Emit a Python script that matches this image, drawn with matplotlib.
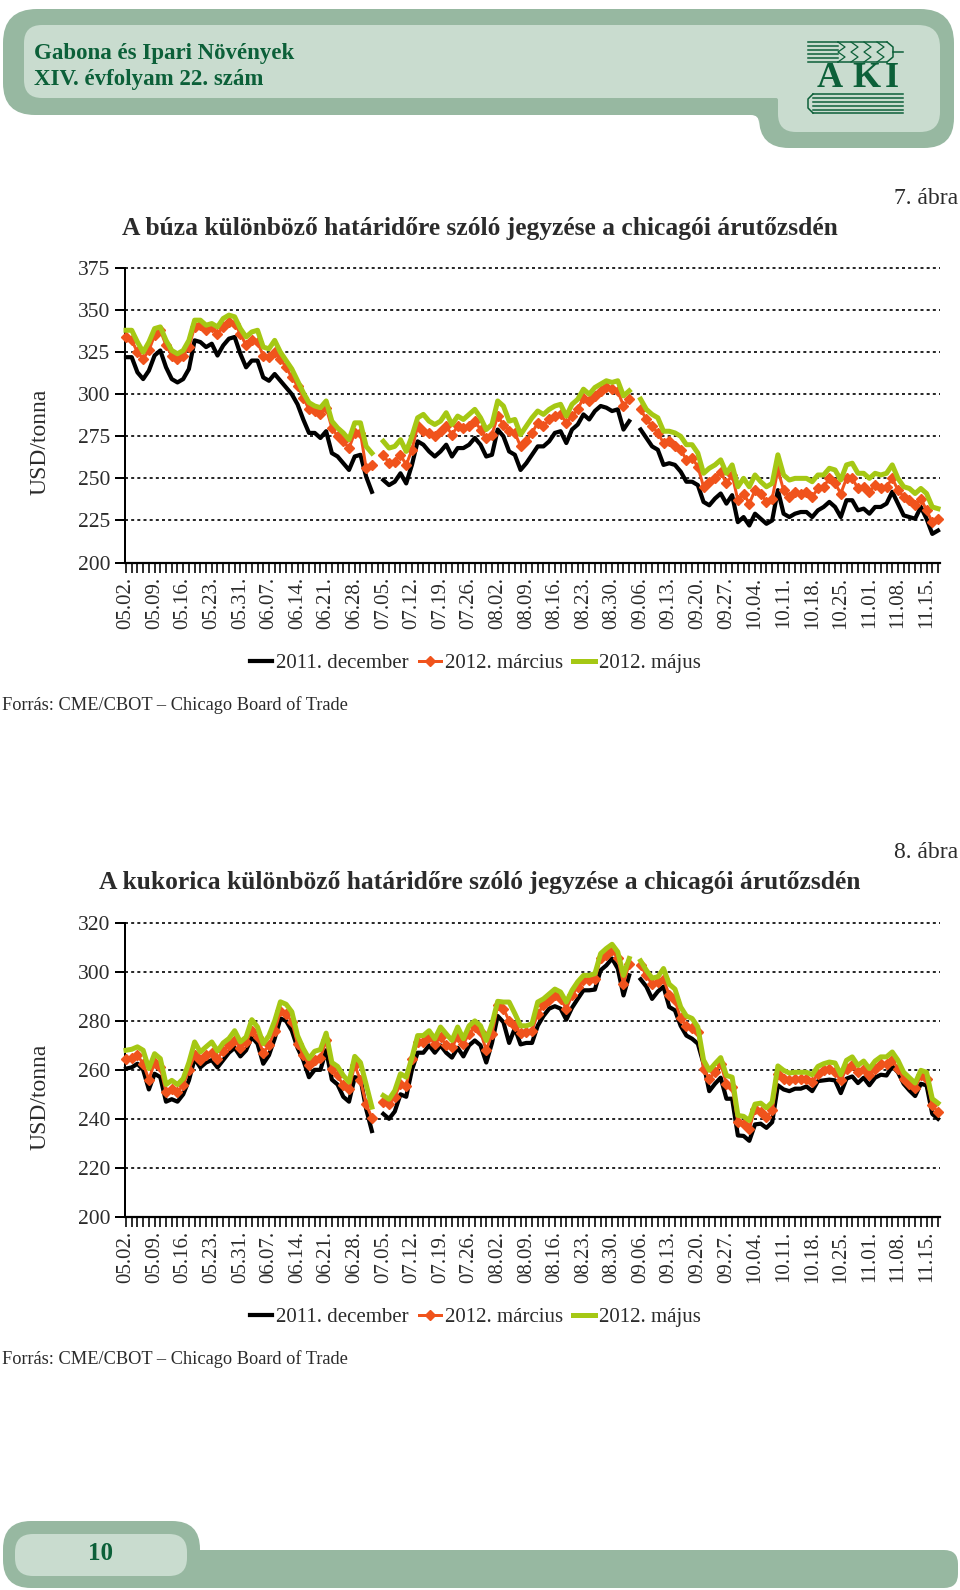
"""Gabona és Ipari Növények, 10. oldal: búza- és kukoricajegyzések a chicagói árutőzsdén."""

import matplotlib
matplotlib.use("Agg")
import matplotlib.pyplot as plt
from matplotlib.patches import PathPatch
from matplotlib.path import Path

nan = float("nan")

DATES = ["05.02.", "05.09.", "05.16.", "05.23.", "05.31.", "06.07.", "06.14.", "06.21.", "06.28.",
         "07.05.", "07.12.", "07.19.", "07.26.", "08.02.", "08.09.", "08.16.", "08.23.", "08.30.",
         "09.06.", "09.13.", "09.20.", "09.27.", "10.04.", "10.11.", "10.18.", "10.25.", "11.01.",
         "11.08.", "11.15."]
SERIES_NAMES = ["2011. december", "2012. március", "2012. május"]

WHEAT_TICKS = [200, 225, 250, 275, 300, 325, 350, 375]
CORN_TICKS = [200, 220, 240, 260, 280, 300, 320]

wheat_dec = [322, 322, 313, 309, 314, 323, 326, 316, 309, 307, 309, 315, 332, 331, 328, 330, 323, 329, 333, 334,
             324, 316, 320, 320, 310, 308, 312, 308, 304, 300, 294, 285, 277, 277, 274, 278, 265, 263, 259, 255,
             263, 264, 251, 242, nan,
             249, 246, 248, 253, 247, 258, 272, 270, 266, 263, 266, 270, 263, 268, 268, 270, 274, 270, 263, 264,
             279, 275, 266, 264, 255, 259, 264, 269, 269, 272, 277, 278, 271, 279, 282, 288, 285, 290, 293, 292,
             290, 291, 279, 284, nan,
             279, 274, 269, 267, 258, 259, 258, 254, 248, 248, 246, 236, 234, 238, 241, 235,
             240, 224, 227, 222, 229, 226, 223, 225, 243, 229, 227, 229, 230, 230, 227, 231, 233, 236, 233, 227,
             237, 237, 231, 232, 229, 233, 233, 235, 242, 235, 228, 227, 226, 233, 226, 217, 219]
wheat_mar = [334, 332, 325, 321, 326, 335, 338, 329, 323, 321, 323, 328, 340, 341, 338, 340, 336, 340, 343, 342,
             336, 329, 332, 331, 323, 322, 325, 321, 316, 310, 305, 298, 291, 290, 288, 292, 280, 275, 272, 268,
             277, 277, 256, 258, nan,
             264, 259, 260, 264, 258, 267, 281, 278, 277, 275, 278, 281, 276, 281, 280, 281, 284, 279, 274, 276,
             287, 282, 278, 277, 269, 272, 277, 283, 281, 285, 287, 288, 283, 287, 291, 298, 296, 299, 302, 304,
             303, 302, 293, 297, nan,
             291, 285, 281, 277, 271, 272, 269, 267, 261, 262, 257, 245, 248, 250, 254, 247, 252, 237, 241, 235,
             243, 241, 236, 238, 255, 243, 239, 242, 241, 242, 239, 244, 245, 250, 247, 241, 250, 250, 244, 245,
             242, 246, 244, 245, 250, 243, 239, 237, 234, 238, 231, 224, 226]
wheat_may = [338, 338, 331, 325, 331, 339, 340, 332, 326, 324, 326, 332, 344, 344, 341, 342, 340, 345, 347, 346,
             339, 334, 337, 338, 328, 327, 332, 325, 320, 315, 308, 301, 295, 293, 292, 296, 284, 280, 277, 273,
             283, 283, 269, 265, nan,
             272, 268, 269, 273, 266, 275, 286, 288, 284, 282, 284, 289, 282, 287, 285, 288, 291, 286, 279, 282,
             296, 293, 284, 285, 276, 281, 286, 290, 288, 291, 293, 294, 287, 294, 297, 303, 300, 304, 306, 308,
             307, 308, 299, 302, nan,
             297, 291, 288, 286, 278, 278, 277, 275, 270, 270, 265, 253, 256, 258, 261, 253, 258, 245, 250, 245,
             252, 248, 245, 247, 264, 252, 249, 250, 250, 250, 248, 252, 252, 256, 255, 249, 258, 259, 253, 253,
             250, 253, 252, 253, 258, 250, 245, 244, 241, 244, 241, 233, 232]

corn_dec = [260.5, 261, 262.5, 260, 252, 258.4, 257, 247, 248, 247, 250, 255.7, 264.6, 261, 263, 264, 261, 264, 267, 269,
            265.5, 268, 273.4, 270.7, 262.5, 266, 272.8, 281, 280, 276, 269, 264, 257, 260, 260, 268, 256, 254, 249, 247,
            257, 256.4, 244, 235, nan,
            242, 240, 243, 250, 249, 260, 267, 267, 270, 267, 270, 267, 265, 269, 265.5, 270, 272, 270, 263, 271,
            282, 279.5, 271, 277, 270.4, 271, 271, 278, 282, 285, 286, 285, 280.5, 285.4, 289, 292.5, 292.5, 292.8, 300.7, 302.7,
            305.5, 301.4, 290.4, 298.6, nan,
            297, 294, 289, 292, 294, 285.7, 284.3, 278, 274, 272.7, 270.7, 262.5, 251.3, 254.3, 256.8, 248.2, 248.2,
            233.2, 233, 231, 237.7, 238, 236.3, 238.6, 253.7, 252, 251.3, 252.3, 252.3, 253.2, 251.3, 255.4, 255.7, 256, 255.7,
            250.5, 256.4, 257.3, 254.6, 256.8, 253.7, 256.8, 258, 257.7, 261.4, 259, 254.3, 251.6, 249.3, 254.3, 253.7, 242, 240]
corn_mar = [264.6, 265, 266, 262.5, 256, 263, 261, 251, 252, 251, 253.7, 260, 266, 264, 266, 267, 264.6, 267.7, 270, 272.4,
            269, 271.4, 276, 273.4, 267, 270, 276, 284, 283, 279.6, 270.7, 266, 262, 264, 265, 272, 260.5, 257.7, 253.7, 252,
            262, 255.7, 246, 240.4, nan,
            247, 246, 249, 254.3, 253.6, 264.5, 271.3, 271.3, 273.4, 270.7, 273.4, 270, 269.3, 273.4, 270.7, 274.7, 277.5, 275.4, 268, 274.7,
            286.3, 285, 280, 278, 275, 275.4, 276, 283, 286.3, 288.4, 290.4, 289, 285, 290.4, 293.9, 296.6, 296.6, 297.3, 305.5, 306.8,
            308.9, 305.5, 295.2, 303.4, nan,
            302.7, 298.6, 295, 296, 297.3, 290.4, 288.4, 281, 278, 277, 275.5, 260.5, 256.4, 259, 262.5, 254.3, 253,
            238.6, 238, 236, 244, 242.7, 240.7, 243.4, 258.4, 256.4, 255.7, 256.4, 256.4, 256.4, 255, 258.4, 259.8, 260.5, 259,
            255.7, 260.5, 261.8, 259, 260.5, 257.7, 260.5, 262.5, 262.5, 264, 260.5, 256.4, 254.3, 252.7, 257.7, 256.4, 245.5, 242.7]
corn_may = [268, 268.4, 269.4, 268, 260.5, 266.6, 264.6, 254, 255.7, 254, 256.4, 263, 271.4, 267.3, 269.4, 271.4, 267.7, 271, 272.8, 276,
            271.4, 273.4, 280.5, 277.5, 270.7, 274, 280, 287.8, 286.8, 283.7, 274, 268.7, 264.6, 267.6, 268.3, 275, 263, 261.4, 257.7, 255,
            265.5, 263, 254, 244.8, nan,
            249.5, 248, 251.5, 258.4, 257, 265, 274, 274, 276, 272.7, 277.5, 274.7, 272, 277.5, 272.7, 278, 280, 278, 272, 278.8,
            288, 287.7, 287.7, 283, 278, 278, 278.8, 287.7, 289, 291, 293, 291.8, 287.7, 292.5, 296, 298.6, 298.6, 299.3, 307.5, 309.6,
            311.3, 308.2, 298.6, 305.5, nan,
            304.5, 300.7, 297.5, 298, 301.4, 295, 293, 285.7, 282, 281, 277.5, 264, 259.8, 262.5, 265, 257.7, 257,
            241.4, 241, 239.3, 246, 246.4, 244.5, 246.8, 261.6, 259.8, 258.7, 259, 259, 259, 258, 261.4, 262.5, 263.2, 262.8,
            258, 263.9, 265.3, 261.8, 263.6, 260.5, 263.6, 265.3, 265.3, 267.3, 263.9, 259, 256.8, 254.6, 259.8, 259, 248.2, 246.4]

W, H = 960, 1590
BLACK = "#000000"
ORANGE = "#f0531c"
LIME = "#a5c814"
BAND = "#97b8a1"
PANEL = "#c9dccf"
INK = "#0c6039"
TEXT = "#2b2b2b"
SERIF = "Liberation Serif"
PX = 72 / 100  # points per pixel at dpi 100

plt.rcParams["font.family"] = SERIF


def rounded(points, radii):
    """Closed path through points, corners rounded by the given radii."""
    n = len(points)
    verts, codes = [], []
    for k in range(n):
        px, py = points[k - 1]
        cx, cy = points[k]
        nx, ny = points[(k + 1) % n]
        r = radii[k]
        d0 = ((cx - px) ** 2 + (cy - py) ** 2) ** 0.5
        d1 = ((nx - cx) ** 2 + (ny - cy) ** 2) ** 0.5
        start = (cx + (px - cx) * r / d0, cy + (py - cy) * r / d0)
        end = (cx + (nx - cx) * r / d1, cy + (ny - cy) * r / d1)
        verts += [start, (cx, cy), end]
        codes += [Path.MOVETO if k == 0 else Path.LINETO, Path.CURVE3, Path.CURVE3]
    verts.append(verts[0])
    codes.append(Path.CLOSEPOLY)
    return Path(verts, codes)


def add_shape(page, points, radii, color):
    page.add_patch(PathPatch(rounded(points, radii), facecolor=color, edgecolor="none"))


def draw_page(page):
    # fejléc
    add_shape(page, [(3, 9), (954, 9), (954, 148), (759, 148), (759, 115), (3, 115)],
              [34, 34, 30, 30, 8, 32], BAND)
    add_shape(page, [(24, 25), (940, 25), (940, 132), (778, 132), (778, 98), (24, 98)],
              [18, 22, 20, 18, 2, 18], PANEL)
    page.text(34, 53, "Gabona és Ipari Növények", color=INK, fontsize=16.5, fontweight="bold", va="center")
    page.text(34, 79, "XIV. évfolyam 22. szám", color=INK, fontsize=16.5, fontweight="bold", va="center")

    # logó: kalász, betűk, könyv
    for y in [42, 46, 50, 54, 58, 62]:
        page.plot([808, 838], [y, y], color=INK, lw=1.1)
    for y in [42, 62]:
        page.plot([838, 887], [y, y], color=INK, lw=1.1)
    for x in [838, 851, 864, 877]:
        page.plot([x, x + 7, x, x + 7, x], [42, 47, 52, 57, 62], color=INK, lw=0.9)
    page.plot([887, 893, 893, 887], [42, 47, 57, 62], color=INK, lw=1.1)
    page.plot([893, 903], [52, 52], color=INK, lw=1.1)
    for x, letter in zip([830, 866, 892], "AKI"):
        page.text(x, 78.5, letter, color=INK, fontsize=26, fontweight="bold", ha="center", va="center")
    for y in [94, 98, 102, 106, 110, 113]:
        page.plot([813, 903], [y, y], color=INK, lw=1.1)
    page.plot([813, 808, 808, 813], [94, 99, 108, 113], color=INK, lw=1.1)

    # lábléc
    add_shape(page, [(100, 1550), (958, 1550), (958, 1588), (100, 1588)], [0.1, 14, 14, 0.1], BAND)
    add_shape(page, [(3, 1521), (200, 1521), (200, 1588), (3, 1588)], [28, 28, 28, 28], BAND)
    add_shape(page, [(15, 1534), (187, 1534), (187, 1576), (15, 1576)], [18, 18, 18, 18], PANEL)
    page.text(100, 1554, "10", color=INK, fontsize=18, fontweight="bold", ha="center", va="center")


def draw_chart(fig, page, top, bottom, yticks, dec, mar, may, title, title_y, ablak, ablak_y,
               legend_y, source_y):
    ax = fig.add_axes([125 / W, 1 - bottom / H, 815 / W, (bottom - top) / H], facecolor="none")
    ax.plot(dec, color=BLACK, lw=4.2 * PX, clip_on=False, zorder=3, label=SERIES_NAMES[0])
    ax.plot(mar, color=ORANGE, lw=3 * PX, marker="D", ms=7.5 * PX, mec=ORANGE, clip_on=False, zorder=4,
            label=SERIES_NAMES[1])
    ax.plot(may, color=LIME, lw=5 * PX, clip_on=False, zorder=5, label=SERIES_NAMES[2])

    ax.set_xlim(-0.175, 142.35)
    ax.set_ylim(yticks[0], yticks[-1])
    ax.set_yticks(yticks)
    ax.yaxis.grid(True, color="black", lw=1.2, linestyle=(0, (1.8, 1.9)))
    for line in ax.get_ygridlines():
        line.set_clip_on(False)
    ax.set_axisbelow(True)
    ax.set_xticks(range(len(dec)))
    labels = [""] * len(dec)
    labels[::5] = DATES
    ax.set_xticklabels(labels, rotation=90, ha="center", va="top")
    ax.tick_params(axis="x", length=10 * PX, width=1.6 * PX, pad=3, labelsize=15, labelcolor=TEXT)
    ax.tick_params(axis="y", length=10 * PX, width=2 * PX, pad=3.5, labelsize=15.5, labelcolor=TEXT)
    for side in ["top", "right"]:
        ax.spines[side].set_visible(False)
    ax.spines["left"].set_linewidth(2 * PX)
    ax.spines["bottom"].set_linewidth(2.2 * PX)

    ax.legend(loc="center", bbox_to_anchor=(475.5 / W, 1 - legend_y / H), bbox_transform=fig.transFigure,
              ncol=3, frameon=False, fontsize=15, handlelength=1.05, handletextpad=0.2, columnspacing=0.5,
              labelcolor=TEXT, borderpad=0)

    page.text(40, (top + bottom) / 2 + 27, "USD/tonna", rotation=90, ha="center", va="center",
              fontsize=17, color=TEXT)
    page.text(480, title_y, title, ha="center", va="center", fontsize=18.4, fontweight="bold", color=TEXT)
    page.text(958, ablak_y, ablak, ha="right", va="center", fontsize=17, color=TEXT)
    page.text(2, source_y, "Forrás: CME/CBOT – Chicago Board of Trade", va="center", fontsize=13.2, color=TEXT)


def main():
    fig = plt.figure(figsize=(W / 100, H / 100), dpi=100, facecolor="white")
    page = fig.add_axes([0, 0, 1, 1])
    page.set_xlim(0, W)
    page.set_ylim(H, 0)
    page.set_axis_off()
    draw_page(page)

    draw_chart(fig, page, 268, 562.5, WHEAT_TICKS, wheat_dec, wheat_mar, wheat_may,
               "A búza különböző határidőre szóló jegyzése a chicagói árutőzsdén", 229,
               "7. ábra", 198, 663, 705)
    draw_chart(fig, page, 923, 1216.7, CORN_TICKS, corn_dec, corn_mar, corn_may,
               "A kukorica különböző határidőre szóló jegyzése a chicagói árutőzsdén", 883,
               "8. ábra", 852, 1317, 1359)

    fig.savefig("out.png", dpi=100, facecolor="white")
    plt.close(fig)


if __name__ == "__main__":
    main()
